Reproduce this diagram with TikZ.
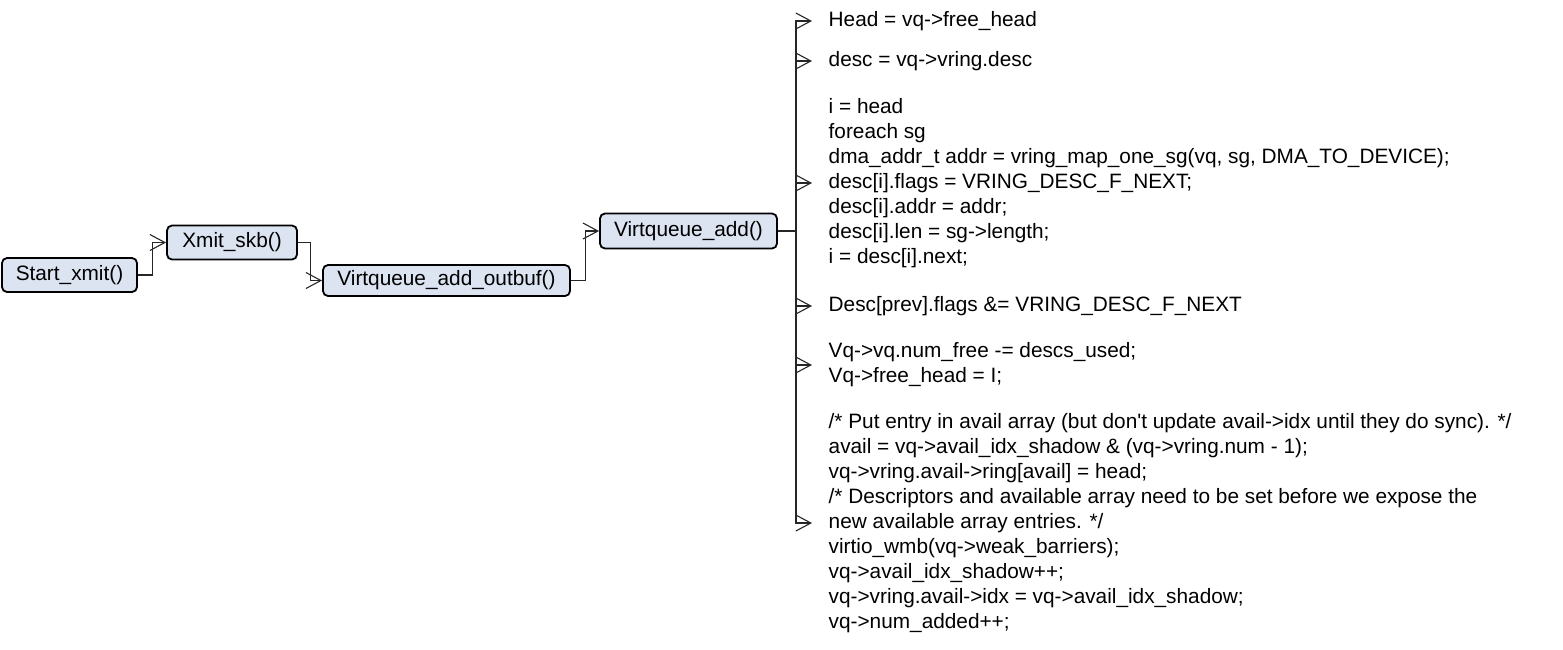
\documentclass[tikz,border=0pt]{standalone}
\usepackage{fontspec}
\setmainfont{Liberation Sans}
\usetikzlibrary{arrows.meta}
\definecolor{boxfill}{RGB}{220,228,242}
\begin{document}
\begin{tikzpicture}[x=1pt,y=-1pt,
  fn/.style={draw=black,line width=1.8pt,fill=boxfill,rounded corners=5pt,
    minimum height=34pt,inner xsep=6pt,font=\fontsize{20.8}{24}\selectfont},
  code/.style={anchor=west,align=left,inner xsep=16.5pt,inner ysep=0pt,
    font=\fontsize{20.8}{25}\selectfont},
  conn/.style={draw=black!85,line width=1.1pt,-{Straight Barb[length=15pt,width=16pt,line width=1.1pt]}},
  bar/.style={draw=black!85,line width=1.2pt}]
\useasboundingbox (0,0) rectangle (1563,649);
\node[fn,minimum width=135pt] (start) at (69.5,275) {Start\_xmit()};
\node[fn,minimum width=130pt] (xmit) at (232,242.5) {Xmit\_skb()};
\node[fn,minimum width=247pt,minimum height=31pt] (outbuf) at (446.5,280.5) {Virtqueue\_add\_outbuf()};
\node[fn,minimum width=177pt,minimum height=35pt] (vadd) at (688.5,231) {Virtqueue\_add()};

\draw[conn] (start.east) -- ++(15,0) |- (xmit.west);
\draw[conn] (xmit.east) -- ++(13,0) |- (outbuf.west);
\draw[conn] (outbuf.east) -- ++(15,0) |- (vadd.west);

\node[code] (b1) at (812,21) {Head = vq->free\_head};
\node[code] (b2) at (812,61) {desc = vq->vring.desc};
\node[code] (b3) at (812,183) {i = head\\foreach sg\\dma\_addr\_t addr = vring\_map\_one\_sg(vq, sg, DMA\_TO\_DEVICE);\\desc[i].flags = VRING\_DESC\_F\_NEXT;\\desc[i].addr = addr;\\desc[i].len = sg->length;\\i = desc[i].next;};
\node[code] (b4) at (812,306) {Desc[prev].flags \&= VRING\_DESC\_F\_NEXT};
\node[code] (b5) at (812,365) {Vq->vq.num\_free -= descs\_used;\\Vq->free\_head = I;};
\node[code] (b6) at (812,523) {/* Put entry in avail array (but don\textquotesingle t update avail->idx until they do sync). */\\avail = vq->avail\_idx\_shadow \& (vq->vring.num - 1);\\vq->vring.avail->ring[avail] = head;\\/* Descriptors and available array need to be set before we expose the\\new available array entries. */\\virtio\_wmb(vq->weak\_barriers);\\vq->avail\_idx\_shadow++;\\vq->vring.avail->idx = vq->avail\_idx\_shadow;\\vq->num\_added++;};

\coordinate (bus) at (796,231);
\draw[bar] (vadd.east) -- (bus);
\foreach \b in {b1,b2,b3,b4,b5,b6}{
  \draw[conn] (bus) |- (\b.west);
}
\end{tikzpicture}
\end{document}
